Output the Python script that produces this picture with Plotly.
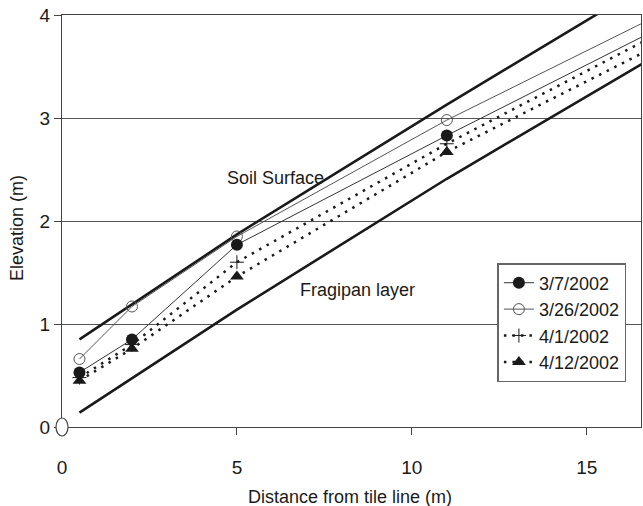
import plotly.graph_objects as go

# Observation distances (m) — last value lies beyond the axis end, lines run off the plot
dist = [0.5, 2, 5, 11, 17]
series_names = ["3/7/2002", "3/26/2002", "4/1/2002", "4/12/2002"]
wt_0307 = [0.53, 0.85, 1.77, 2.83, 3.86]
wt_0326 = [0.66, 1.17, 1.85, 2.98, 3.99]
wt_0401 = [0.48, 0.80, 1.60, 2.75, 3.81]
wt_0412 = [0.45, 0.76, 1.46, 2.67, 3.70]

soil_x = [0.5, 5, 11, 15.5]
soil_y = [0.85, 1.87, 3.13, 4.05]
frag_x = [0.5, 5, 11, 16.6]
frag_y = [0.14, 1.14, 2.41, 3.53]

xticks = [0, 5, 10, 15]
yticks = [0, 1, 2, 3, 4]

FONT = "Liberation Sans, Arial, sans-serif"
INK = "#1a1a1a"
DOTS = "2.5px,6px"

fig = go.Figure()

fig.add_trace(go.Scatter(x=soil_x, y=soil_y, mode="lines", showlegend=False,
                         line=dict(color=INK, width=2.6)))
fig.add_trace(go.Scatter(x=frag_x, y=frag_y, mode="lines", showlegend=False,
                         line=dict(color=INK, width=2.6)))

fig.add_trace(go.Scatter(x=dist, y=wt_0412, name=series_names[3], mode="lines+markers",
                         legendrank=4,
                         line=dict(color=INK, width=2.5, dash=DOTS),
                         marker=dict(symbol="triangle-up", size=12, color=INK)))
fig.add_trace(go.Scatter(x=dist, y=wt_0401, name=series_names[2], mode="lines+markers",
                         legendrank=3,
                         line=dict(color=INK, width=2.5, dash=DOTS),
                         marker=dict(symbol="cross-thin", size=10,
                                     line=dict(color=INK, width=1), color=INK)))
fig.add_trace(go.Scatter(x=dist, y=wt_0326, name=series_names[1], mode="lines+markers",
                         legendrank=2,
                         line=dict(color="#555555", width=1),
                         marker=dict(symbol="circle-open", size=11,
                                     line=dict(color="#555555", width=1))))
fig.add_trace(go.Scatter(x=dist, y=wt_0307, name=series_names[0], mode="lines+markers",
                         legendrank=1,
                         line=dict(color="#333333", width=1),
                         marker=dict(symbol="circle", size=12, color=INK)))

fig.add_annotation(x=6.1, y=2.42, text="Soil Surface", showarrow=False,
                   font=dict(family=FONT, size=18, color=INK))
fig.add_annotation(x=8.45, y=1.33, text="Fragipan layer", showarrow=False,
                   font=dict(family=FONT, size=18, color=INK))

# axis titles as annotations for exact placement
fig.add_annotation(xref="paper", yref="paper", x=0.497, y=0, yanchor="middle",
                   yshift=-70, text="Distance from tile line (m)", showarrow=False,
                   font=dict(family=FONT, size=18, color=INK))
fig.add_annotation(xref="paper", yref="paper", x=0, y=0.483, xanchor="center",
                   xshift=-45, textangle=-90, text="Elevation (m)", showarrow=False,
                   font=dict(family=FONT, size=18, color=INK))

# open ellipse at the origin (paper-referenced so it is not clipped)
fig.add_shape(type="circle", xref="paper", yref="paper", xsizemode="pixel", ysizemode="pixel",
              xanchor=0, yanchor=0, x0=-6, x1=6, y0=-9, y1=9,
              line=dict(color="#444444", width=1.2), fillcolor="white", layer="above")

fig.update_layout(
    width=643, height=506,
    margin=dict(l=62, r=2, t=15, b=79),
    paper_bgcolor="white", plot_bgcolor="white",
    font=dict(family=FONT, size=18, color=INK),
    legend=dict(x=0.752, y=0.398, xanchor="left", yanchor="top",
                bgcolor="white", bordercolor="#666666", borderwidth=1.5,
                font=dict(family=FONT, size=18, color=INK),
                itemwidth=30, tracegroupgap=0),
)
fig.update_xaxes(range=[0, 16.55], tickvals=xticks, ticks="outside", ticklen=7,
                 tickcolor="#444", showline=True, linecolor="#444", linewidth=1,
                 mirror=True, showgrid=False, zeroline=False, automargin=False,
                 ticklabelstandoff=16, tickfont=dict(size=19))
fig.update_yaxes(range=[0, 4], tickvals=yticks, ticks="outside", ticklen=7,
                 tickcolor="#444", showline=True, linecolor="#444", linewidth=1,
                 mirror=True, showgrid=True, gridcolor="#555555", gridwidth=1,
                 zeroline=False, automargin=False, tickfont=dict(size=19))

# remove the browser's default body margin so the figure sits at the page origin
fig.write_html("out.html", config={"displayModeBar": False},
               post_script="document.body.style.margin='0';document.body.style.padding='0';")
